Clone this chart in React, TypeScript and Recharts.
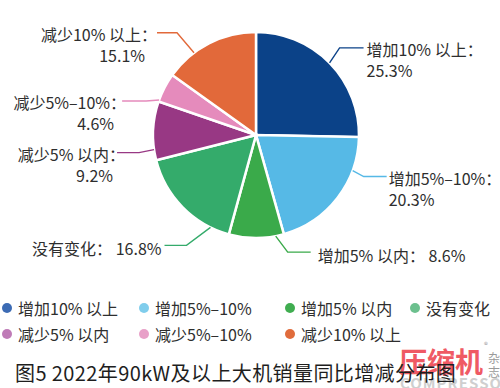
import { PieChart, Pie, Cell, Legend } from 'recharts';

// 图5 2022年90kW及以上大机销量同比增减分布
const CATEGORIES = [
  '增加10% 以上',
  '增加5%–10%',
  '增加5% 以内',
  '没有变化',
  '减少5% 以内',
  '减少5%–10%',
  '减少10% 以上',
];
const SHARES = [25.3, 20.3, 8.6, 16.8, 9.2, 4.6, 15.1];

const SLICE_COLORS = ['#0b4288', '#56b9e6', '#3aaa4a', '#34ab6b', '#983884', '#e58bbc', '#e2693a'];
const LEGEND_COLORS = ['#3c6bb4', '#80cdec', '#40ad50', '#6cc08e', '#bf7bb7', '#e8a0c8', '#e06c3c'];

const FONT = '"Noto Sans CJK SC", "Noto Sans", sans-serif';

// label layout per slice: where on the rim the leader starts, the elbow, which side the text sits
const LABEL_LAYOUT = [
  { frac: 0.5, ex: 10, ey: -15, len: 24, side: 'right', gap: 3, twoLines: true },
  { frac: 0.26, ex: 11, ey: 6, len: 23, side: 'right', gap: 2, twoLines: true },
  { frac: 0.15, ex: 12, ey: 16, len: 23, side: 'right', gap: 7, twoLines: false },
  { frac: 0.18, ex: -24, ey: 18, len: 22, side: 'left', gap: 3, twoLines: false },
  { frac: 0.18, ex: -15, ey: 3, len: 22, side: 'left', gap: -8, twoLines: true },
  { frac: 0.05, ex: -13, ey: 1, len: 24, side: 'left', gap: -4, twoLines: true },
  { frac: 0.32, ex: -17, ey: -20, len: 20, side: 'left', gap: 0, twoLines: true },
];

const data = CATEGORIES.map((name, i) => ({ name, value: SHARES[i] }));

const RAD = Math.PI / 180;

function SliceLabel(props: any) {
  const { cx, cy, outerRadius, startAngle, endAngle, index } = props;
  const cfg = LABEL_LAYOUT[index];
  const color = SLICE_COLORS[index];
  const ang = startAngle + (endAngle - startAngle) * cfg.frac;
  const ax = cx + Math.cos(-ang * RAD) * outerRadius;
  const ay = cy + Math.sin(-ang * RAD) * outerRadius;
  const bx = ax + cfg.ex;
  const by = ay + cfg.ey;
  const dir = cfg.side === 'right' ? 1 : -1;
  const ex = bx + dir * cfg.len;
  const tx = ex + dir * cfg.gap;
  const anchor = cfg.side === 'right' ? 'start' : 'end';
  const name = CATEGORIES[index];
  const val = `${SHARES[index].toFixed(1)}%`;
  const textProps = {
    fill: '#2e2e2e',
    fontSize: 16,
    fontFamily: FONT,
    textAnchor: anchor,
    dominantBaseline: 'central',
  } as const;
  return (
    <g>
      <polyline
        points={`${ax},${ay} ${bx},${by} ${ex},${by}`}
        fill="none"
        stroke={color}
        strokeWidth={1.4}
      />
      {cfg.twoLines ? (
        <>
          <text x={tx} y={by + 1} {...textProps}>
            {name}：
          </text>
          <text x={cfg.side === 'right' ? tx : tx - 12} y={by + 22} {...textProps}>
            {val}
          </text>
        </>
      ) : (
        <text x={tx} y={by + 3} {...textProps}>
          {name}： {val}
        </text>
      )}
    </g>
  );
}

function LegendBlock() {
  const colLeft = [2, 139, 285, 410];
  return (
    <div style={{ position: 'relative', width: 500, height: 60, fontFamily: FONT }}>
      {CATEGORIES.map((name, i) => {
        const row = Math.floor(i / 4);
        const col = i % 4;
        return (
          <div
            key={name}
            style={{
              position: 'absolute',
              left: colLeft[col],
              top: row * 26,
              display: 'flex',
              alignItems: 'center',
              height: 24,
              fontSize: 16,
              color: '#2e2e2e',
              whiteSpace: 'nowrap',
            }}
          >
            <span
              style={{
                width: 10,
                height: 10,
                borderRadius: '50%',
                background: LEGEND_COLORS[i],
                marginRight: 6,
                flexShrink: 0,
              }}
            />
            <span>{name}</span>
          </div>
        );
      })}
    </div>
  );
}

export default function App() {
  return (
    <div style={{ position: 'relative', width: 500, height: 388, background: '#fff', overflow: 'hidden' }}>
      <style>{`body{margin:0}`}</style>
      <PieChart width={500} height={388} margin={{ top: 0, right: 0, bottom: 0, left: 0 }}>
        <Pie
          data={data}
          dataKey="value"
          nameKey="name"
          cx={256}
          cy={135}
          outerRadius={103}
          startAngle={90}
          endAngle={-270}
          stroke="#ffffff"
          strokeWidth={2.5}
          label={SliceLabel}
          labelLine={false}
          isAnimationActive={false}
        >
          {data.map((d, i) => (
            <Cell key={d.name} fill={SLICE_COLORS[i]} />
          ))}
        </Pie>
        <Legend
          content={<LegendBlock />}
          wrapperStyle={{ position: 'absolute', left: 0, top: 296, width: 500 }}
        />
      </PieChart>

      {/* watermark */}
      <div
        style={{
          position: 'absolute',
          left: 399,
          top: 344,
          fontFamily: FONT,
          fontSize: 28,
          fontWeight: 700,
          color: '#ef5a64',
          lineHeight: '34px',
        }}
      >
        压缩机
      </div>
      <div
        style={{
          position: 'absolute',
          left: 484,
          top: 340,
          fontFamily: FONT,
          fontSize: 8,
          color: '#9a9a9a',
          lineHeight: '10px',
        }}
      >
        ®
      </div>
      <div
        style={{
          position: 'absolute',
          left: 488,
          top: 351,
          width: 13,
          fontFamily: FONT,
          fontSize: 12,
          color: '#9a9a9a',
          lineHeight: '14px',
          wordBreak: 'break-all',
        }}
      >
        杂志
      </div>
      <div
        style={{
          position: 'absolute',
          left: 400,
          top: 374,
          fontFamily: FONT,
          fontSize: 15,
          fontWeight: 700,
          color: '#cfcfcf',
          letterSpacing: 1,
          lineHeight: '18px',
        }}
      >
        COMPRESSOR
      </div>

      <div
        style={{
          position: 'absolute',
          left: 15,
          top: 359,
          fontFamily: FONT,
          fontSize: 20,
          letterSpacing: 0.4,
          color: '#1e1e1e',
          lineHeight: '28px',
          whiteSpace: 'nowrap',
        }}
      >
        图5 2022年90kW及以上大机销量同比增减分布图
      </div>
    </div>
  );
}
